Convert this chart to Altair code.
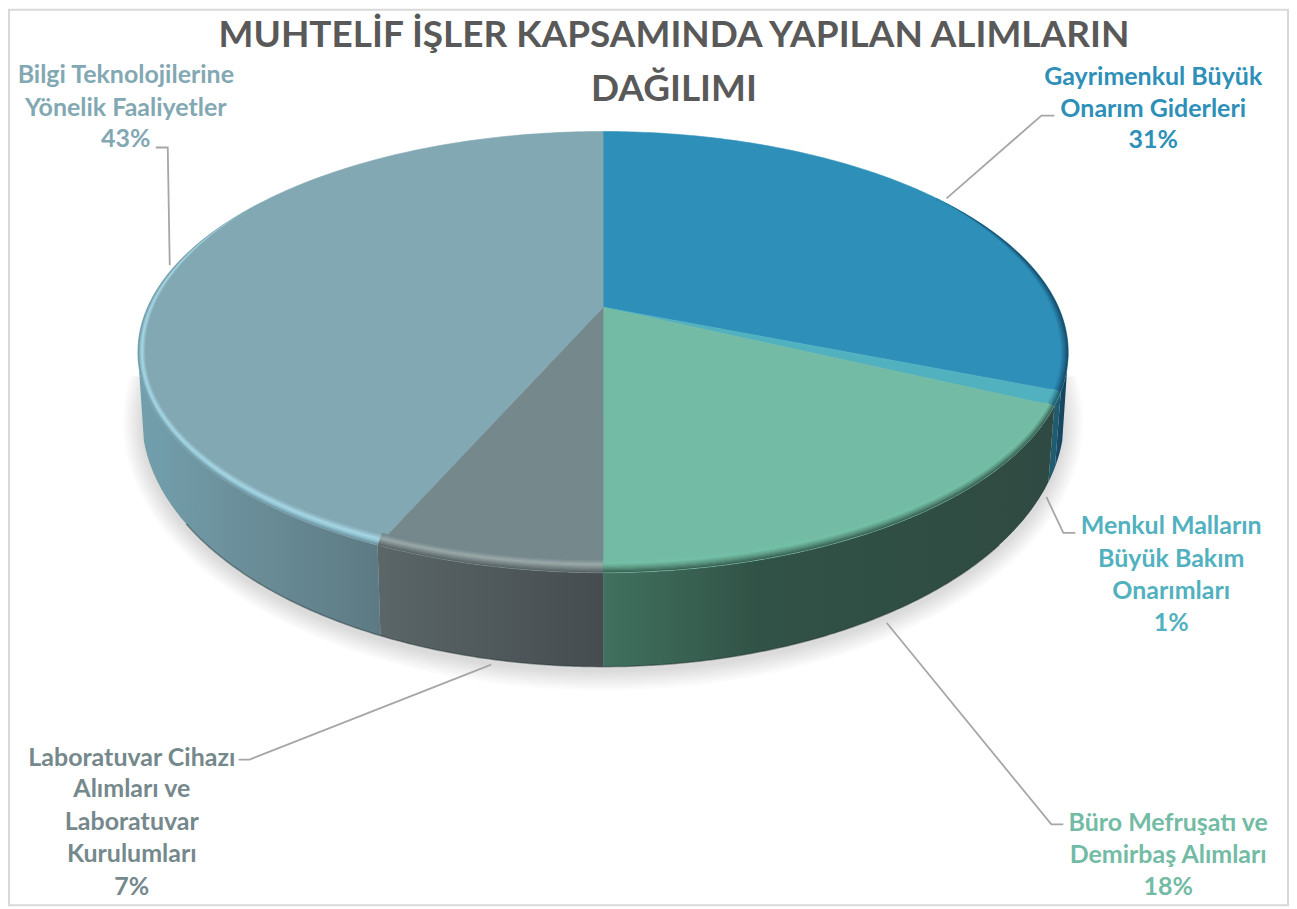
import math
import altair as alt
import pandas as pd

# ---- chart content ----
categories = ["Gayrimenkul Büyük Onarım Giderleri", "Menkul Malların Büyük Bakım Onarımları",
              "Büro Mefruşatı ve Demirbaş Alımları",
              "Laboratuvar Cihazı Alımları ve Laboratuvar Kurulumları",
              "Bilgi Teknolojilerine Yönelik Faaliyetler"]
values = [31.0, 1.0, 18.0, 6.6, 43.4]
percent_labels = ["31%", "1%", "18%", "7%", "43%"]
face_colors = ["#2E90B8", "#52B1BF", "#73BBA5", "#75888C", "#82A8B3"]
label_lines = [["Gayrimenkul Büyük", "Onarım Giderleri"],
               ["Menkul Malların", "Büyük Bakım", "Onarımları"],
               ["Büro Mefruşatı ve", "Demirbaş Alımları"],
               ["Laboratuvar Cihazı", "Alımları ve", "Laboratuvar", "Kurulumları"],
               ["Bilgi Teknolojilerine", "Yönelik Faaliyetler"]]
title_lines = ["MUHTELİF İŞLER KAPSAMINDA YAPILAN ALIMLARIN", "DAĞILIMI"]

# ---- layout of the tilted pie, in reference pixels ----
CX, CY = 604.0, 307.0
K, S, T = 0.2035, 456.2, 211.8
LOW_CY, LOW_A, LOW_B = 417.0, 462.0, 250.0
TOP_EC = 352.0
label_centers = [1155, 1173, 1170, 132, 126]
label_baselines = [[84, 116, 148], [534, 567, 599, 631], [832, 864, 896],
                   [766, 798, 831, 863, 896], [82, 115, 147]]
leaders = [[(948, 198), (1043, 115), (1056, 115)],
           [(1048, 497), (1065, 533), (1077, 533)],
           [(888, 623), (1053, 825), (1065, 825)],
           [(492, 665), (250, 760), (239, 760)],
           [(170, 265), (168, 147), (156, 147)]]
wall_stops = [[("#1a4d6a", 0), ("#143f58", 1)],
              [("#1f5c70", 0), ("#1f5c70", 1)],
              [("#41715f", 0), ("#315246", 0.35), ("#2f4a42", 1)],
              [("#5a6668", 0), ("#464c50", 1)],
              [("#72a0ad", 0), ("#6c909b", 0.4), ("#5c7a83", 1)]]
rim_stops = [[(0, "#1a4a63"), (.5, "#23719a"), (1, "#2E90B8")],
             [(0, "#1e5c6c"), (.5, "#3d8ea0"), (1, "#52B1BF")],
             [(0, "#3b6455"), (.4, "#5f9e88"), (.7, "#74c0a6"), (1, "#73BBA5")],
             [(0, "#5a6567"), (.35, "#7e8b8c"), (.6, "#9caaaa"), (1, "#75888C")],
             [(0, "#6f97a3"), (.25, "#8fc0cf"), (.5, "#a8d8e6"), (.75, "#93bcc8"), (1, "#82A8B3")]]


def top_point(deg):
    a = math.radians(deg)
    u, v = math.sin(a), math.cos(a)
    den = 1 + K * v
    return CX + S * u / den, CY - T * v / den


def low_point(deg):
    x, _ = top_point(deg)
    dx = (x - CX) * 0.987
    return CX + dx, LOW_CY + LOW_B * math.sqrt(max(0, 1 - (dx / LOW_A) ** 2))


def sweep(a0, a1, n=90):
    return [a0 + (a1 - a0) * i / n for i in range(n + 1)]


def spans(poly):
    xs = sorted({round(p[0], 2) for p in poly})
    rows = []
    m = len(poly)
    for x in xs:
        ys = []
        for i in range(m):
            x0, y0 = poly[i]
            x1, y1 = poly[(i + 1) % m]
            lo, hi = min(x0, x1), max(x0, x1)
            if lo - 0.006 <= x <= hi + 0.006:
                if abs(x1 - x0) < 1e-9:
                    ys += [y0, y1]
                else:
                    f = min(1, max(0, (x - x0) / (x1 - x0)))
                    ys.append(y0 + (y1 - y0) * f)
        rows.append({"x": x, "y": min(ys), "y2": max(ys)})
    return pd.DataFrame(rows)


def mix(stops, t):
    for (t0, c0), (t1, c1) in zip(stops, stops[1:]):
        if t <= t1:
            f = (t - t0) / (t1 - t0)
            a = [int(c0[i:i + 2], 16) for i in (1, 3, 5)]
            b = [int(c1[i:i + 2], 16) for i in (1, 3, 5)]
            return "#%02x%02x%02x" % tuple(round(p + (q - p) * f) for p, q in zip(a, b))
    return stops[-1][1]


sx = alt.Scale(domain=[8, 1291], nice=False, zero=False)
sy = alt.Scale(domain=[907, 8], nice=False, zero=False)
X = alt.X("x:Q", scale=sx, axis=None)
Y = alt.Y("y:Q", scale=sy, axis=None)
Y2 = alt.Y2("y2:Q")

layers = []

# frame
frame = pd.DataFrame([{"x": 9, "x2": 1290, "y": 9, "y2": 906}])
layers.append(alt.Chart(frame).mark_rect(filled=False, stroke="#D9D9D9", strokeWidth=2).encode(
    x=X, x2=alt.X2("x2:Q"), y=Y, y2=Y2))

# soft shadow
for step in range(9):
    d = 1 + step * 2.2
    a = LOW_A + d
    b = LOW_B + d
    pts = [(CX + a * math.cos(math.radians(q)), LOW_CY + 5 + b * math.sin(math.radians(q))) for q in sweep(-10, 190, 200)]
    layers.append(alt.Chart(spans(pts + [(CX, LOW_CY)])).mark_area(color="#000000", opacity=0.014).encode(x=X, y=Y, y2=Y2))

# slice boundaries
edges = [0.0]
for v in values:
    edges.append(edges[-1] + v / sum(values) * 360)
RIGHT_EXT = math.degrees(math.acos(-K))
LEFT_EXT = 360 - RIGHT_EXT

# side wall: outer slices first, inner slices painted over them
for idx in [0, 1, 4, 2, 3]:
    a0, a1 = edges[idx], edges[idx + 1]
    a0 = max(a0, RIGHT_EXT)
    a1 = min(a1, LEFT_EXT)
    if a1 <= a0:
        continue
    arc = sweep(a0, a1)
    poly = [top_point(q) for q in arc] + [low_point(q) for q in reversed(arc)]
    grad = alt.Gradient(gradient="linear", x1=0, x2=1, y1=0, y2=0,
                        stops=[alt.GradientStop(color=c, offset=o) for c, o in wall_stops[idx]])
    layers.append(alt.Chart(spans(poly)).mark_area(color=grad).encode(x=X, y=Y, y2=Y2))

# dark lower edge of the wall
low_edge = pd.DataFrame([dict(zip("xy", low_point(q)), i=i) for i, q in enumerate(sweep(130, 235, 200))])
layers.append(alt.Chart(low_edge).mark_line(color="#20302e", opacity=0.45, strokeWidth=1.5).encode(
    x=X, y=Y, order=alt.Order("i:Q")))

# top face wedges
for idx in range(5):
    poly = [(CX, CY)] + [top_point(q) for q in sweep(edges[idx], edges[idx + 1], 160)]
    layers.append(alt.Chart(spans(poly)).mark_area(
        color=face_colors[idx], stroke=face_colors[idx], strokeWidth=0.6).encode(x=X, y=Y, y2=Y2))


# bevelled rim: it narrows to nothing where it fades out towards the back of the pie
def rim_taper(q):
    if q < 100:
        return max(0.0, min(1.0, (q - 55) / 40))
    if q > 250:
        return max(0.0, min(1.0, (300 - q) / 40))
    return 1.0


rim_ranges = [(55, edges[1]), (edges[1], edges[2]), (edges[2], edges[3]), (edges[3], edges[4]), (edges[4], 300)]
rim_rows = []
for idx, (a0, a1) in enumerate(rim_ranges):
    for band in range(12):
        t = band / 11
        for i, q in enumerate(sweep(a0, a1, 70)):
            x, y = top_point(q)
            w = t * rim_taper(q)
            rim_rows.append({"x": CX + (x - CX) * (0.998 - 0.016 * w),
                             "y": TOP_EC + (y - TOP_EC) * (0.995 - 0.055 * w),
                             "i": i, "band": f"{idx}-{band:02d}", "c": mix(rim_stops[idx], t)})
layers.append(alt.Chart(pd.DataFrame(rim_rows)).mark_line(strokeWidth=1.6).encode(
    x=X, y=Y, detail="band:N", order=alt.Order("i:Q"),
    color=alt.Color("c:N", scale=None, legend=None)))

# leader lines
lead_rows = [{"x": x, "y": y, "i": i, "k": k} for k, line in enumerate(leaders) for i, (x, y) in enumerate(line)]
layers.append(alt.Chart(pd.DataFrame(lead_rows)).mark_line(color="#A6A6A6", strokeWidth=1.8).encode(
    x=X, y=Y, detail="k:N", order=alt.Order("i:Q")))

# labels
text_rows = []
for idx in range(5):
    lines = label_lines[idx] + [percent_labels[idx]]
    for line, base in zip(lines, label_baselines[idx]):
        text_rows.append({"x": label_centers[idx], "y": base, "t": line, "c": face_colors[idx]})
layers.append(alt.Chart(pd.DataFrame(text_rows)).mark_text(
    font="Lato", fontWeight="bold", fontSize=25, align="center", baseline="alphabetic").encode(
    x=X, y=Y, text="t:N", color=alt.Color("c:N", scale=None, legend=None)))

# title
title_df = pd.DataFrame({"x": [675, 675], "y": [46, 100], "t": title_lines})
layers.append(alt.Chart(title_df).mark_text(
    font="Lato", fontWeight="bold", fontSize=37, color="#595959", align="center", baseline="alphabetic").encode(
    x=X, y=Y, text="t:N"))

chart = alt.layer(*layers).properties(
    width=1283, height=899, padding=0, autosize=alt.AutoSizeParams(type="none"), background="white"
).configure_view(stroke=None)

chart.save("out.html", embed_options={"renderer": "svg", "actions": False})
